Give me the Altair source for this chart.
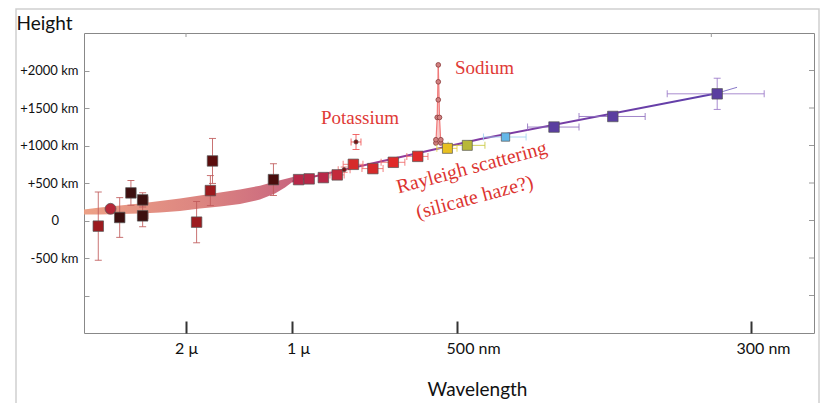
import altair as alt
import pandas as pd

# ---------------- data ----------------
# transit measurements: wavelength (nm), apparent height (km)
LAM = [2860, 2740, 2650, 2540, 2425, 2425, 1900, 1770, 1750, 1175,
       980, 948, 905, 863, 842, 814, 806, 755, 693, 619,
       529, 493, 467, 434, 394, 323]
H = [-75, 156, 40, 368, 275, 62, -22, 399, 794, 545,
     545, 555, 572, 608, 678, 749, 1047, 692, 776, 855,
     962, 1002, 1113, 1246, 1387, 1689]
H_ERR = [455, None, 265, 165, 95, 145, 275, 200, 300, 212,
         None, None, None, 40, 35, 50, 100, 60, 30, None,
         None, None, None, 30, 40, 208]
LAM_LO = [None, None, None, None, 2373, 2373, None, None, None, None,
          None, None, None, 842, 824, 785, 791, 724, 658, 588,
          500, 481, 453, 417, 372, 291]
LAM_HI = [None, None, None, None, 2470, 2470, None, None, None, None,
          None, None, None, 885, 860, 845, 821, 788, 730, 652,
          561, 527, 482, 452, 417, 357]
SHAPE = ["square", "circle", "square", "square", "square", "square", "square", "square", "square", "square",
         "square", "square", "square", "square", "circle", "square", "circle", "square", "square", "square",
         "square", "square", "square", "square", "square", "square"]
SIZE = [110, 120, 110, 110, 110, 110, 110, 110, 110, 110,
        110, 110, 110, 110, 18, 110, 18, 110, 110, 110,
        100, 100, 70, 110, 110, 110]
COLOR = ["#9c1a1e", "#b52838", "#3d0f0f", "#3d0f0f", "#3d0f0f", "#3d0f0f", "#9c1a1e", "#9c1a1e", "#5a0d0d", "#4a0d0d",
         "#b82848", "#b82848", "#b82848", "#c42a3a", "#7a1010", "#d62a2a", "#7a1010", "#d62a2a", "#e02a2a", "#e02a2a",
         "#e8c020", "#b8b838", "#64b8e8", "#5a3ea0", "#5a3ea0", "#5a3ea0"]
ECOLOR = ["#bf5a5a", "#bf5a5a", "#bf5a5a", "#bf5a5a", "#bf5a5a", "#bf5a5a", "#bf5a5a", "#bf5a5a", "#bf5a5a", "#bf5a5a",
          "#f06a6a", "#f06a6a", "#f06a6a", "#f06a6a", "#f06a6a", "#f06a6a", "#f05050", "#f06a6a", "#f06a6a", "#f06a6a",
          "#e8d040", "#c8c840", "#a0d0f0", "#9070c0", "#9070c0", "#9a78c8"]

# smooth model band (near-infrared)
BAND_LAM = [3000, 2843, 2647, 2451, 2255, 2059, 1868, 1679, 1491, 1302, 1160, 1066, 997, 976]
BAND_TOP = [146, 173, 200, 226, 259, 293, 333, 372, 412, 465, 519, 552, 579, 585]
BAND_BOT = [80, 80, 86, 93, 106, 126, 160, 186, 219, 279, 359, 439, 519, 572]

# Rayleigh scattering model line
LINE_LAM = [1000, 484, 323]
LINE_H = [519, 1087, 1698]
EXT_LAM = [323, 309.5]
EXT_H = [1698, 1776]

# sodium doublet spike
SPIKE_H = [1033, 1374, 2075]
SPIKE_L = [564, 560, 556.7]
SPIKE_R = [549, 553, 556.7]
NA_LAM = [564, 549, 564, 549, 560, 553, 556.7, 556.7, 556.7]
NA_H = [1033, 1033, 1077, 1077, 1374, 1374, 1609, 1849, 2075]

# annotations
NOTE_TEXT = ["Sodium", "Potassium", "Rayleigh scattering", "(silicate haze?)"]
NOTE_LAM = [506, 794, 490, 488]
NOTE_H = [2035, 1370, 705, 306]

# axes
X_TICKS = [2000, 1000, 500, 300]
Y_TICKS = [-1000, -500, 0, 500, 1000, 1500, 2000]
TOP_TICKS = [2000, 327]

# ---------------- scales ----------------
W, HGT = 730, 300
XS = alt.Scale(domain=[3000, 2000, 1000, 500, 300, 257], range=[0, 102, 208, 373, 667, 730], nice=False, zero=False)
YS = alt.Scale(domain=[-1500, 2500], nice=False, zero=False)

pts = pd.DataFrame(dict(lam=LAM, h=H, err=H_ERR, llo=LAM_LO, lhi=LAM_HI,
                        shape=SHAPE, size=SIZE, color=COLOR, ecolor=ECOLOR))
pts["err"] = pd.to_numeric(pts["err"])
pts["llo"] = pd.to_numeric(pts["llo"])
pts["lhi"] = pd.to_numeric(pts["lhi"])
verr = pts[pts["err"].notna()].copy()
verr["lo"] = verr["h"] - verr["err"]
verr["hi"] = verr["h"] + verr["err"]
herr = pts[pts["llo"].notna()].copy()

band = pd.DataFrame(dict(lam=BAND_LAM, top=BAND_TOP, bot=BAND_BOT))
line = pd.DataFrame(dict(lam=LINE_LAM, h=LINE_H))
ext = pd.DataFrame(dict(lam=EXT_LAM, h=EXT_H))
spike = pd.DataFrame(dict(h=SPIKE_H, l=SPIKE_L, r=SPIKE_R))
spike_lines = pd.concat([
    pd.DataFrame(dict(lam=SPIKE_L, h=SPIKE_H, side="l")),
    pd.DataFrame(dict(lam=SPIKE_R, h=SPIKE_H, side="r")),
])
na = pd.DataFrame(dict(lam=NA_LAM, h=NA_H))
notes = pd.DataFrame(dict(text=NOTE_TEXT, lam=NOTE_LAM, h=NOTE_H))

FONT = "Lato"
ZW = "\u200b"  # zero-width guard so padding spaces survive trimming
x_label_expr = (
    "datum.value == 2000 ? '2 \u03bc' : "
    f"datum.value == 1000 ? '{ZW}\u2002\u00a01 \u03bc' : "
    f"datum.value == 500 ? '{ZW}\u2002\u2002\u2002\u00a0\u00a0500 nm' : "
    f"'{ZW}\u2002\u2002\u2002300 nm'"
)
y_label_expr = (
    f"datum.value == -1000 ? '' : datum.value == 0 ? '0\u2002\u2002\u2002{ZW}' : "
    "(datum.value > 0 ? '+' : '') + datum.value + ' km'"
)

x_axis = alt.Axis(values=X_TICKS, labelExpr=x_label_expr, offset=-12, tickSize=12, tickWidth=2,
                  tickColor="#333", domain=False, grid=False, labelPadding=7, labelFontSize=16,
                  labelFont=FONT, labelColor="#111", labelFlush=False,
                  title="Wavelength", titleFont=FONT, titleFontSize=19, titleFontWeight="normal",
                  titleColor="#111", titleX=393, titleY=74, titleAlign="center", titleBaseline="alphabetic")
y_axis = alt.Axis(values=Y_TICKS, labelExpr=y_label_expr, offset=-5, tickSize=5, tickWidth=1,
                  tickColor="#999", domain=False, grid=False, labelPadding=6, labelFontSize=13,
                  labelFont=FONT, labelColor="#111",
                  title="Height", titleFont=FONT, titleFontSize=19, titleFontWeight="normal",
                  titleColor="#111", titleAngle=0, titleAlign="left", titleBaseline="alphabetic",
                  titleX=-73, titleY=-4)


def X(field="lam"):
    return alt.X(f"{field}:Q", scale=XS, axis=x_axis, title="Wavelength")


def Y(field="h"):
    return alt.Y(f"{field}:Q", scale=YS, axis=y_axis, title="Height")


band_grad = alt.Gradient(gradient="linear", x1=0, x2=1, y1=0, y2=0,
                         stops=[alt.GradientStop(color="#ec9c80", offset=0),
                                alt.GradientStop(color="#da7e7a", offset=0.55),
                                alt.GradientStop(color="#c45c78", offset=1)])
line_grad = alt.Gradient(gradient="linear", x1=0, x2=1, y1=0, y2=0,
                         stops=[alt.GradientStop(color="#c8406a", offset=0),
                                alt.GradientStop(color="#8a3aa0", offset=0.3),
                                alt.GradientStop(color="#5e40aa", offset=1)])

band_l = alt.Chart(band).mark_area(fill=band_grad, interpolate="linear", opacity=0.95).encode(
    x=X("lam"), y=Y("top"), y2="bot:Q")

line_l = alt.Chart(line).mark_line(stroke=line_grad, strokeWidth=2).encode(x=X(), y=Y())
ext_l = alt.Chart(ext).mark_line(color="#8878c8", strokeWidth=1).encode(x=X(), y=Y())

spike_area = alt.Chart(spike).mark_area(orient="horizontal", color="#f6b4b4", opacity=0.7).encode(
    y=Y(), x=X("l"), x2="r:Q")
spike_line = alt.Chart(spike_lines).mark_line(color="#f07a7a", strokeWidth=1.2).encode(
    x=X(), y=Y(), detail="side:N", order="h:Q")
na_pts = alt.Chart(na).mark_point(shape="circle", filled=True, size=22, fill="#d08080",
                                  stroke="#8a3a3a", strokeWidth=0.8, opacity=1).encode(x=X(), y=Y())

vrule = alt.Chart(verr).mark_rule(strokeWidth=1, opacity=0.85).encode(
    x=X(), y=Y("lo"), y2="hi:Q", color=alt.Color("ecolor:N", scale=None))
vcap_lo = alt.Chart(verr).mark_tick(orient="horizontal", size=7, thickness=1, opacity=0.85).encode(
    x=X(), y=Y("lo"), color=alt.Color("ecolor:N", scale=None))
vcap_hi = alt.Chart(verr).mark_tick(orient="horizontal", size=7, thickness=1, opacity=0.85).encode(
    x=X(), y=Y("hi"), color=alt.Color("ecolor:N", scale=None))
hrule = alt.Chart(herr).mark_rule(strokeWidth=1, opacity=0.85).encode(
    x=X("llo"), x2="lhi:Q", y=Y(), color=alt.Color("ecolor:N", scale=None))
hcap_lo = alt.Chart(herr).mark_tick(orient="vertical", size=7, thickness=1, opacity=0.85).encode(
    x=X("llo"), y=Y(), color=alt.Color("ecolor:N", scale=None))
hcap_hi = alt.Chart(herr).mark_tick(orient="vertical", size=7, thickness=1, opacity=0.85).encode(
    x=X("lhi"), y=Y(), color=alt.Color("ecolor:N", scale=None))

points = alt.Chart(pts).mark_point(filled=True, strokeWidth=0.7, opacity=1).encode(
    x=X(), y=Y(), fill=alt.Fill("color:N", scale=None), stroke=alt.value("#555"),
    shape=alt.Shape("shape:N", scale=None), size=alt.Size("size:Q", scale=None))

notes_na = alt.Chart(notes[notes["text"] == "Sodium"]).mark_text(
    font="Liberation Serif", fontSize=19, color="#e03a36", align="left", baseline="middle").encode(
    x=X(), y=Y(), text="text:N")
notes_k = alt.Chart(notes[notes["text"] == "Potassium"]).mark_text(
    font="Liberation Serif", fontSize=19, color="#e03a36", align="center", baseline="middle").encode(
    x=X(), y=Y(), text="text:N")
notes_rot = alt.Chart(notes[notes["text"].isin(["Rayleigh scattering", "(silicate haze?)"])]).mark_text(
    font="Liberation Serif", fontSize=20, color="#dc3430", align="center", baseline="middle", angle=345).encode(
    x=X(), y=Y(), text="text:N")

right_ticks = alt.Chart(pd.DataFrame(dict(h=Y_TICKS))).mark_rule(color="#999", strokeWidth=1).encode(
    y=Y(), x=alt.value(W - 5), x2=alt.value(W))
top_ticks = alt.Chart(pd.DataFrame(dict(lam=TOP_TICKS))).mark_rule(color="#999", strokeWidth=1).encode(
    x=X(), y=alt.value(0), y2=alt.value(4))

outer = alt.Chart(pd.DataFrame(dict(a=[0]))).mark_rect(fillOpacity=0, stroke="#cfcfcf", strokeWidth=1.5).encode(
    x=alt.value(-68), x2=alt.value(735), y=alt.value(-24), y2=alt.value(390))

chart = alt.layer(
    band_l, line_l, ext_l, spike_area, spike_line, na_pts,
    vrule, vcap_lo, vcap_hi, hrule, hcap_lo, hcap_hi, points,
    notes_na, notes_k, notes_rot, right_ticks, top_ticks, outer
).properties(
    width=W, height=HGT,
    autosize=alt.AutoSizeParams(type="none"),
    padding={"left": 84, "top": 33, "right": 7, "bottom": 70},
    background="white",
).configure_view(stroke="#888", strokeWidth=1).configure_axis(grid=False)

chart.save("out.html", embed_options={"renderer": "svg", "actions": False})
